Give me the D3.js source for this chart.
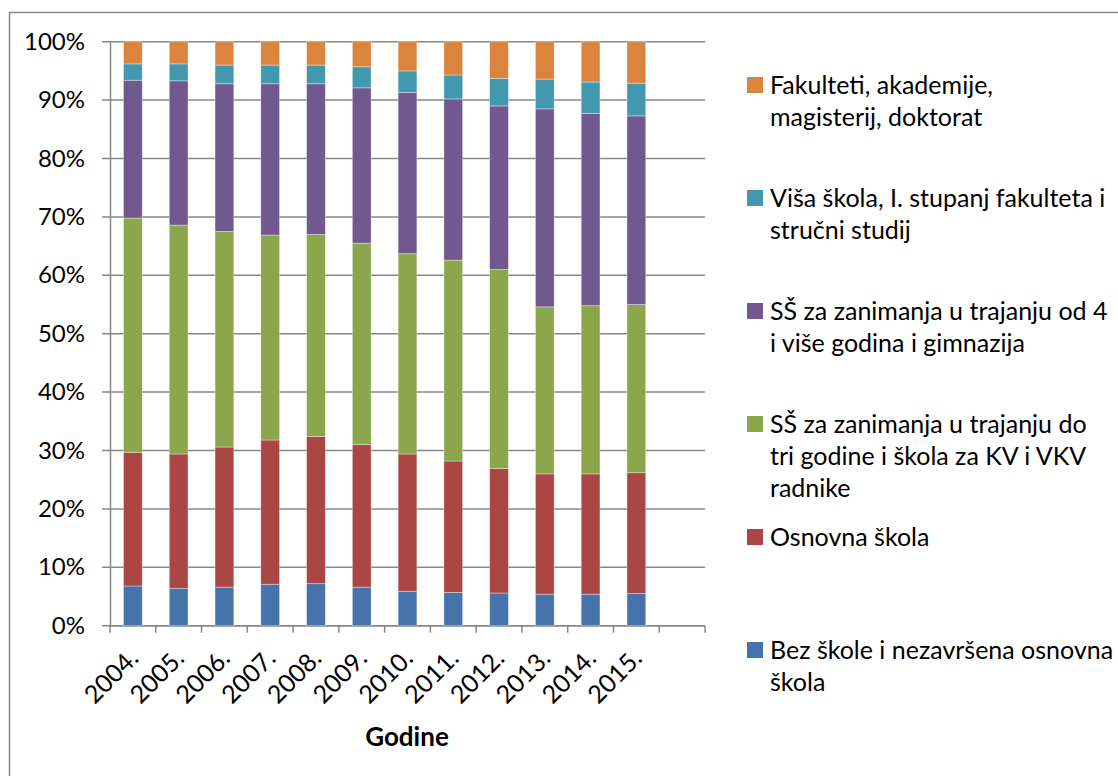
<!DOCTYPE html>
<html>
<head>
<meta charset="utf-8">
<script src="https://cdn.jsdelivr.net/npm/d3@7"></script>
<style>
  html, body { margin: 0; padding: 0; background: #fff; }
  svg { display: block; font-family: Lato, "Open Sans", sans-serif; }
</style>
</head>
<body>
<svg id="chart" width="1118" height="776"></svg>
<script>
// Years on the category axis (one spare empty slot follows 2015)
const years = ["2004.", "2005.", "2006.", "2007.", "2008.", "2009.", "2010.", "2011.", "2012.", "2013.", "2014.", "2015."];
const slots = years.concat([""]);

// Shares (%) per education level, bottom to top of each stack
const bezSkole   = [6.8, 6.4, 6.6, 7.1, 7.2, 6.6, 5.9, 5.7, 5.6, 5.4, 5.4, 5.5];
const osnovna    = [22.9, 23.0, 24.0, 24.7, 25.2, 24.4, 23.5, 22.5, 21.3, 20.6, 20.6, 20.7];
const ssDoTri    = [40.1, 39.2, 36.9, 35.1, 34.6, 34.5, 34.3, 34.4, 34.1, 28.6, 28.8, 28.8];
const ssOdCetiri = [23.6, 24.7, 25.3, 25.9, 25.8, 26.6, 27.6, 27.6, 28.0, 33.9, 32.9, 32.3];
const visaSkola  = [2.8, 2.9, 3.2, 3.2, 3.2, 3.6, 3.7, 4.1, 4.7, 5.1, 5.4, 5.6];
const fakulteti  = [3.8, 3.8, 4.0, 4.0, 4.0, 4.3, 5.0, 5.7, 6.3, 6.4, 6.9, 7.1];

// Legend labels (line breaks as they wrap in the legend)
const seriesLabels = [
  ["Bez škole i nezavršena osnovna", "škola"],
  ["Osnovna škola"],
  ["SŠ za zanimanja u trajanju do", "tri godine i škola za KV i VKV", "radnike"],
  ["SŠ za zanimanja u trajanju od 4", "i više godina i gimnazija"],
  ["Viša škola, I. stupanj fakulteta i", "stručni studij"],
  ["Fakulteti, akademije,", "magisterij, doktorat"]
];
const seriesValues = [bezSkole, osnovna, ssDoTri, ssOdCetiri, visaSkola, fakulteti];
const colors = ["#4674AA", "#AA4644", "#8BA64B", "#71588F", "#4198AF", "#DB843D"];
const yTicks = [0, 0.1, 0.2, 0.3, 0.4, 0.5, 0.6, 0.7, 0.8, 0.9, 1];

const svg = d3.select("#chart");
const gridColor = "#878787";

// Chart frame
svg.append("path")
  .attr("d", "M9.5,800V12.5H1200")
  .attr("fill", "none").attr("stroke", gridColor).attr("stroke-width", 1.5);

const plot = { left: 110, right: 705, top: 41.7, bottom: 625.7 };

const x = d3.scaleBand().domain(slots).range([plot.left, plot.right]).padding(0);
const y = d3.scaleLinear().domain([0, 1]).range([plot.bottom, plot.top]);

// Build stacked rows and normalise to 100 %
const keys = seriesValues.map((_, i) => "s" + i);
const rows = years.map((yr, j) => {
  const r = { year: yr };
  seriesValues.forEach((arr, i) => { r["s" + i] = arr[j]; });
  return r;
});
const stacked = d3.stack().keys(keys).offset(d3.stackOffsetExpand)(rows);

// Horizontal gridlines (extending left as the axis ticks)
svg.append("g").selectAll("line").data(yTicks).join("line")
  .attr("x1", plot.left - 8).attr("x2", plot.right)
  .attr("y1", d => y(d)).attr("y2", d => y(d))
  .attr("stroke", gridColor).attr("stroke-width", 1.5);

// Y axis
const yAxis = svg.append("g")
  .attr("transform", `translate(${plot.left},0)`)
  .call(d3.axisLeft(y).tickValues(yTicks).tickFormat(d3.format(".0%")).tickSize(0).tickPadding(25));
yAxis.select(".domain").attr("stroke", gridColor).attr("stroke-width", 1.5);
yAxis.selectAll("text").attr("font-size", 24).attr("fill", "#000").attr("font-family", "Lato");

// X axis line and boundary ticks
svg.append("line")
  .attr("x1", plot.left).attr("x2", plot.right)
  .attr("y1", plot.bottom).attr("y2", plot.bottom)
  .attr("stroke", gridColor).attr("stroke-width", 1.5);
const boundaries = slots.map(s => x(s)).concat([x(slots[slots.length - 1]) + x.bandwidth()]);
svg.append("g").selectAll("line").data(boundaries).join("line")
  .attr("x1", d => d).attr("x2", d => d)
  .attr("y1", plot.bottom).attr("y2", plot.bottom + 7)
  .attr("stroke", gridColor).attr("stroke-width", 1.5);

// Stacked bars
const barFrac = 0.41;
const bw = x.bandwidth() * barFrac;
const off = (x.bandwidth() - bw) / 2;
svg.append("g").selectAll("g").data(stacked).join("g")
  .attr("fill", (d, i) => colors[i])
  .selectAll("rect").data(d => d).join("rect")
  .attr("x", d => x(d.data.year) + off)
  .attr("width", bw)
  .attr("y", d => y(d[1]))
  .attr("height", d => y(d[0]) - y(d[1]))
  .attr("stroke", "rgba(255,255,255,0.45)")
  .attr("stroke-width", 0.8);

// Rotated year labels
svg.append("g").selectAll("text").data(years).join("text")
  .attr("transform", d => `translate(${x(d) + x.bandwidth() / 2 + 7},${plot.bottom + 34}) rotate(-45)`)
  .attr("text-anchor", "end")
  .attr("font-size", 25)
  .attr("fill", "#000")
  .text(d => d);

// Axis title
svg.append("text")
  .attr("x", 407).attr("y", 746)
  .attr("text-anchor", "middle")
  .attr("font-size", 26).attr("font-weight", "bold")
  .attr("fill", "#000")
  .text("Godine");

// Legend, top entry = last series
const legend = svg.append("g");
const order = d3.range(seriesLabels.length).reverse();
order.forEach((si, k) => {
  const cy = 85 + k * 113;
  legend.append("rect")
    .attr("x", 747).attr("y", cy - 8).attr("width", 16).attr("height", 16)
    .attr("fill", colors[si]);
  const t = legend.append("text")
    .attr("x", 770).attr("y", cy + 9)
    .attr("font-size", 25).attr("fill", "#000");
  seriesLabels[si].forEach((line, li) => {
    t.append("tspan").attr("x", 770).attr("dy", li === 0 ? 0 : 32).text(line);
  });
});
</script>
</body>
</html>
